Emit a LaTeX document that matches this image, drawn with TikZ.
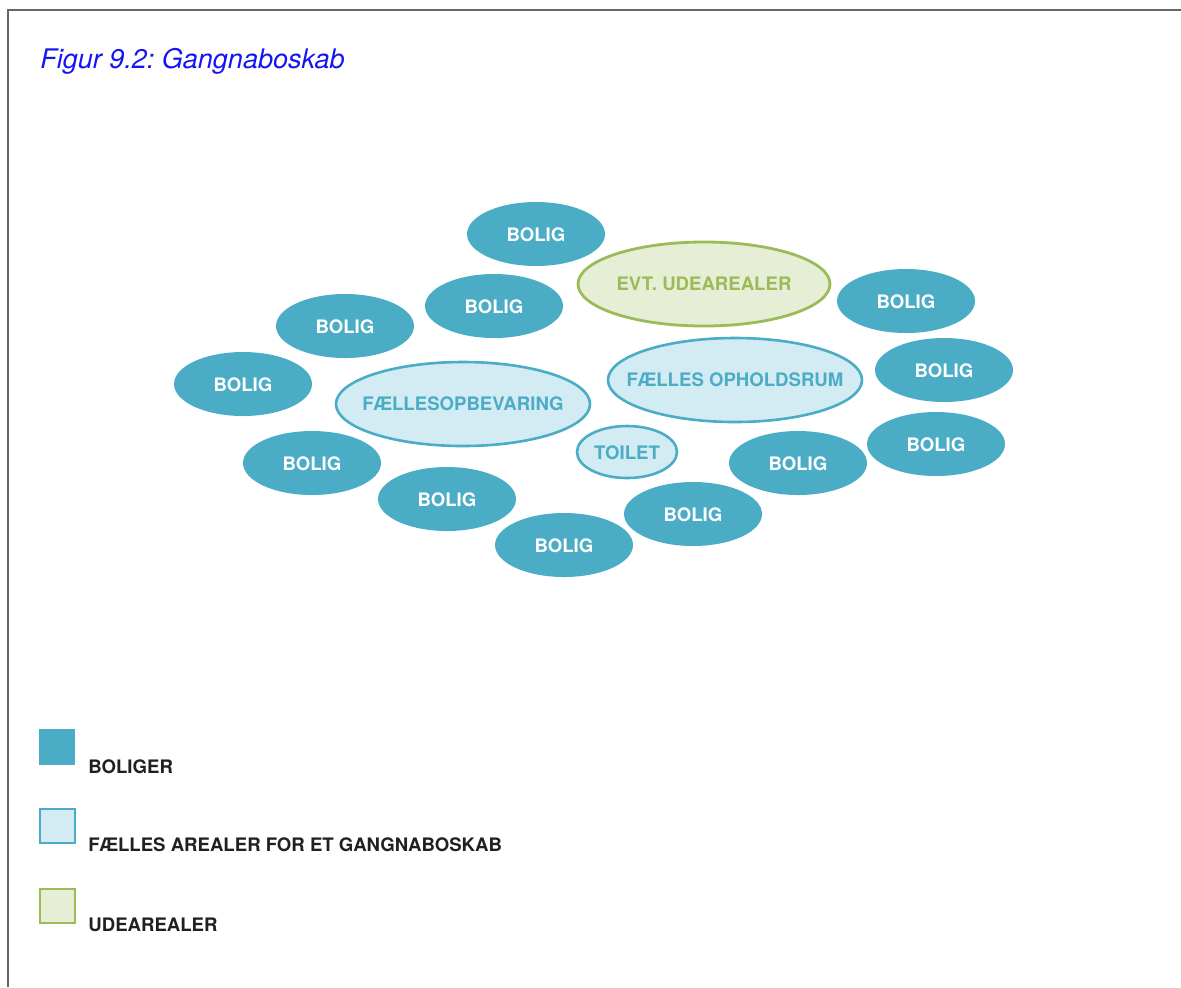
\documentclass[tikz,border=0pt]{standalone}
\usepackage{fontspec}
\setmainfont{TeX Gyre Heros}
\usepackage{xcolor}
\usetikzlibrary{calc}
\definecolor{boligblue}{HTML}{4BACC6}
\definecolor{fællesfill}{HTML}{D3EBF3}
\definecolor{udegreen}{HTML}{9BBB59}
\definecolor{udefill}{HTML}{E6EED6}
\definecolor{titleblue}{RGB}{20,20,245}
\definecolor{legendtext}{HTML}{231F20}
\tikzset{
 bolig/.style={fill=boligblue, draw=none},
 boligtxt/.style={text=white, font=\fontsize{9.3}{10}\selectfont\bfseries, inner sep=0, yshift=-0.5pt},
 faelles/.style={fill=fællesfill, draw=boligblue, line width=1.3pt},
 faellestxt/.style={text=boligblue, font=\fontsize{9.3}{10}\selectfont\bfseries, inner sep=0},
 ude/.style={fill=udefill, draw=udegreen, line width=1.4pt},
 udetxt/.style={text=udegreen, font=\fontsize{9.3}{10}\selectfont\bfseries, inner sep=0},
 legendtxt/.style={text=legendtext, font=\fontsize{9.3}{10}\selectfont\bfseries, anchor=base west, inner sep=0}
}

\begin{document}
\begin{tikzpicture} [x=0.5pt, y=-0.5pt]
\useasboundingbox (0,0) rectangle (1181,987);
\draw[black!60, line width=1pt] (1181,10) -- (8,10) -- (8,987);
\node[titleblue, font=\fontsize{13.5}{15}\selectfont\itshape, anchor=base west, inner sep=0] (titel) at (40,68) {Figur 9.2:\ Gangnaboskab};

% boliger
\foreach \x/\y [count=\i] in {536/234, 494/306, 345/326, 906/301, 243/384, 944/370,
 312/463, 447/499, 564/545, 693/514, 798/463, 936/444} {
 \fill[bolig] (\x,\y) ellipse (69 and 32);
 \node[boligtxt] (bolig\i) at (\x,\y) {BOLIG};
}

% faelles arealer
\filldraw[ude] (704,284) ellipse (126 and 42);
\node[udetxt] (ude) at (704,284) {EVT. UDEAREALER};
\filldraw[faelles] (463,404) ellipse (127 and 42);
\node[faellestxt] (opbevaring) at (463,404) {FÆLLESOPBEVARING};
\filldraw[faelles] (735,380) ellipse (127 and 42);
\node[faellestxt] (opholdsrum) at (735,380) {FÆLLES OPHOLDSRUM};
\filldraw[faelles] (627,452) ellipse (50 and 26);
\node[faellestxt] (toilet) at (627,453) {TOILET};

% signatur
\fill[bolig] (39,729) rectangle (75,765);
\node[legendtxt] (legbolig) at (88,773) {BOLIGER};
\filldraw[faelles] (40,809) rectangle (75,843);
\node[legendtxt] (legfaelles) at (88,851) {FÆLLES AREALER FOR ET GANGNABOSKAB};
\filldraw[ude] (40,889) rectangle (75,923);
\node[legendtxt] (legude) at (88,931) {UDEAREALER};
\end{tikzpicture}
\end{document}
